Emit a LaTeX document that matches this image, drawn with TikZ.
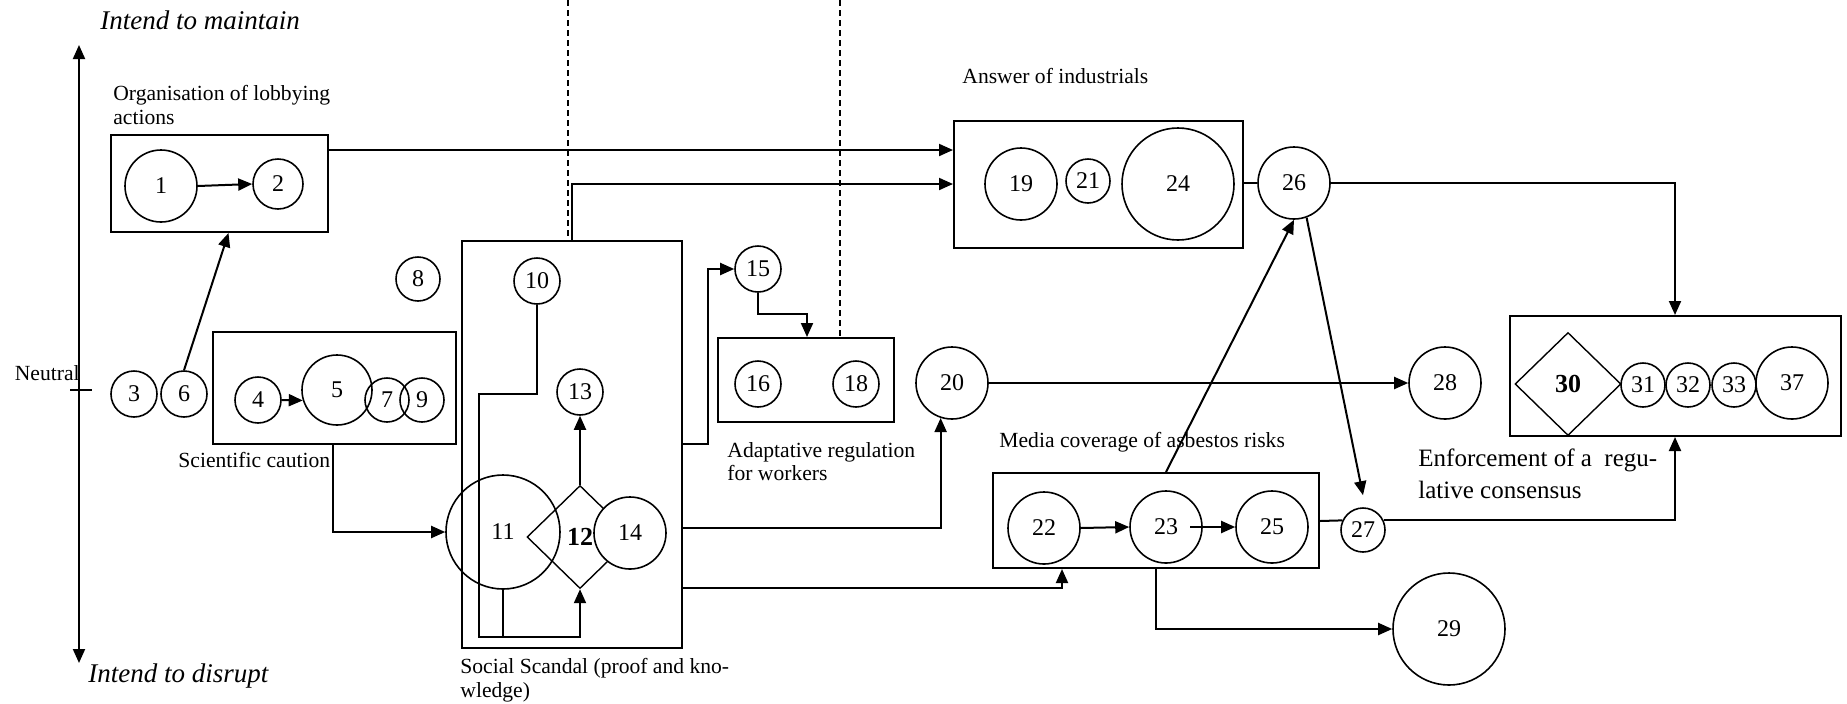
\documentclass[tikz,border=0pt]{standalone}
\usepackage{fontspec}
\setmainfont{Liberation Serif}
\usetikzlibrary{arrows.meta, shapes.geometric, fit}
\begin{document}
\begin{tikzpicture}[x=0.5pt, y=-0.5pt,
  crc/.style={draw, circle, line width=0.8pt, inner sep=0pt, minimum size=#1pt, font=\fontsize{12}{14}\selectfont},
  box/.style={draw, line width=1pt, inner sep=0pt, rectangle},
  dia/.style={draw, diamond, line width=0.7pt, inner sep=0pt, minimum width=53pt, minimum height=51.5pt, font=\fontsize{13}{15}\selectfont\bfseries},
  conn/.style={line width=1pt},
  arr/.style={conn, -{Triangle[length=7pt,width=6pt]}},
  lbl/.style={inner sep=0pt, font=\fontsize{10.8}{11.8}\selectfont, align=left},
  ital/.style={inner sep=0pt, font=\fontsize{13.5}{15}\selectfont\itshape},
  dsh/.style={line width=0.7pt, dash pattern=on 3pt off 2pt},
]
\useasboundingbox (0,0) rectangle (1847,703);

% axis
\coordinate (axtop) at (79,45);
\coordinate (axbot) at (79,663);
\coordinate (neu) at (79,390);
\draw[conn, {Triangle[length=7pt,width=6pt]}-{Triangle[length=7pt,width=6pt]}] (axbot) -- (axtop);
\draw[conn] ([xshift=-4.5pt]neu) -- ([xshift=6.5pt]neu);
\node[ital, anchor=base west] (tmaint) at (100,29) {Intend to maintain};
\node[ital, anchor=base west] (tdis) at (88,682) {Intend to disrupt};
\node[lbl, anchor=base east] (tneu) at (80,380) {Neutral};

% labels
\node[lbl, anchor=north west] (torg) at (113,85) {Organisation of lobbying\\actions};
\node[lbl, anchor=base west] (tsci) at (178,467) {Scientific caution};
\node[lbl, anchor=north west] (tss) at (460,658) {Social Scandal (proof and kno-\\wledge)};
\node[lbl, anchor=north west] (tad) at (727,442) {Adaptative regulation\\for workers};
\node[lbl, anchor=base west] (tans) at (962,83) {Answer of industrials};
\node[lbl, anchor=base west] (tmed) at (999,447) {Media coverage of asbestos risks};
\node[lbl, anchor=north west, font=\fontsize{12.5}{16}\selectfont] (tenf) at (1418,448) {Enforcement of a \ regu-\\lative consensus};

% boxes and nodes
\node[box, fit={(111,135) (328,232)}] (b1) {};
\node[crc=36] (c1) at (161,186) {1};
\node[crc=25] (c2) at (278,184) {2};
\node[crc=23] (c3) at (134,394) {3};
\node[crc=23] (c6) at (184,394) {6};
\node[box, fit={(213,332) (456,444)}] (sci) {};
\node[crc=23] (c4) at (258,400) {4};
\node[crc=35] (c5) at (337,390) {5};
\node[crc=22] (c7) at (387,400) {7};
\node[crc=22] (c9) at (422,400) {9};
\node[crc=22] (c8) at (418,279) {8};
\node[box, fit={(462,241) (682,648)}] (ss) {};
\node[crc=23] (c10) at (537,281) {10};
\node[crc=57] (c11) at (503,532) {11};
\node[dia] (d12) at (580,537) {12};
\node[crc=36, fill=white] (c14) at (630,533) {14};
\node[crc=23] (c13) at (580,392) {13};
\node[crc=23] (c15) at (758,269) {15};
\node[box, fit={(718,338) (894,422)}] (ad) {};
\node[crc=23] (c16) at (758,384) {16};
\node[crc=23] (c18) at (856,384) {18};
\node[crc=36] (c20) at (952,383) {20};
\node[box, fit={(954,121) (1243,248)}] (ans) {};
\node[crc=36] (c19) at (1021,184) {19};
\node[crc=22] (c21) at (1088,181) {21};
\node[crc=56] (c24) at (1178,184) {24};
\node[crc=36] (c26) at (1294,183) {26};
\node[box, fit={(993,473) (1319,568)}] (md) {};
\node[crc=36] (c22) at (1044,528) {22};
\node[crc=36] (c23) at (1166,527) {23};
\node[crc=36] (c25) at (1272,527) {25};
\node[crc=22] (c27) at (1363,530) {27};
\node[crc=36] (c28) at (1445,383) {28};
\node[crc=56] (c29) at (1449,629) {29};
\node[box, fit={(1510,316) (1841,436)}] (enf) {};
\node[dia] (d30) at (1568,384) {30};
\node[crc=22] (c31) at (1643,385) {31};
\node[crc=22] (c32) at (1688,385) {32};
\node[crc=22] (c33) at (1734,385) {33};
\node[crc=36] (c37) at (1792,383) {37};

% dashed lines
\coordinate (top1) at (568,0);
\coordinate (top2) at (840,0);
\draw[dsh] (top1) -- (ss.north -| top1);
\draw[dsh] (top2) -- (ad.north -| top2);

% connectors
\draw[arr] (c1.east) -- (c2.west);
\draw[arr] (c6.north) -- ([xshift=4.5pt]b1.south);
\draw[arr] (c4.east) -- (c5.197);
\draw[arr] (b1.east |- 0,150) -- (ans.west |- 0,150);
\draw[arr] (ss.north -| 572,0) |- (ans.west |- 0,184);
\draw[arr] (sci.south -| 333,0) |- (c11.west);
\draw[arr] (c10.south) |- (479,394) |- (d12.south |- 0,637) -- (d12.south);
\draw[conn] (c11.south) -- (c11.south |- 0,637);
\draw[arr] (d12.north) -- (c13.south);
\draw[arr] (ss.east |- 0,444) -- (708,444) |- (c15.west);
\draw[arr] (c15.south) |- (807,314) -- (ad.north -| 807,0);
\draw[arr] (ss.east |- 0,528) -| (c20.252);
\draw[arr] (ss.east |- 0,588) -| (md.south -| 1062,0);
\draw[conn] (ans.east |- c26.west) -- (c26.west);
\draw[arr] (c20.east) -- (c28.west);
\draw[arr] (c22.east) -- (c23.west);
\draw[arr] ([xshift=12pt]c23.center) -- (c25.west);
\draw[arr] (md.north -| c23) -- (c26.south);
\draw[arr] (c26.-70) -- ([yshift=6pt]c27.north);
\draw[conn] (md.east |- 0,521) -- (c27.155);
\draw[arr] (md.south -| 1156,0) |- (c29.west);
\draw[arr] (c26.east) -| (enf.north -| 1675,0);
\draw[arr] (c27.25) -| (enf.south -| 1675,0);
\end{tikzpicture}
\end{document}
